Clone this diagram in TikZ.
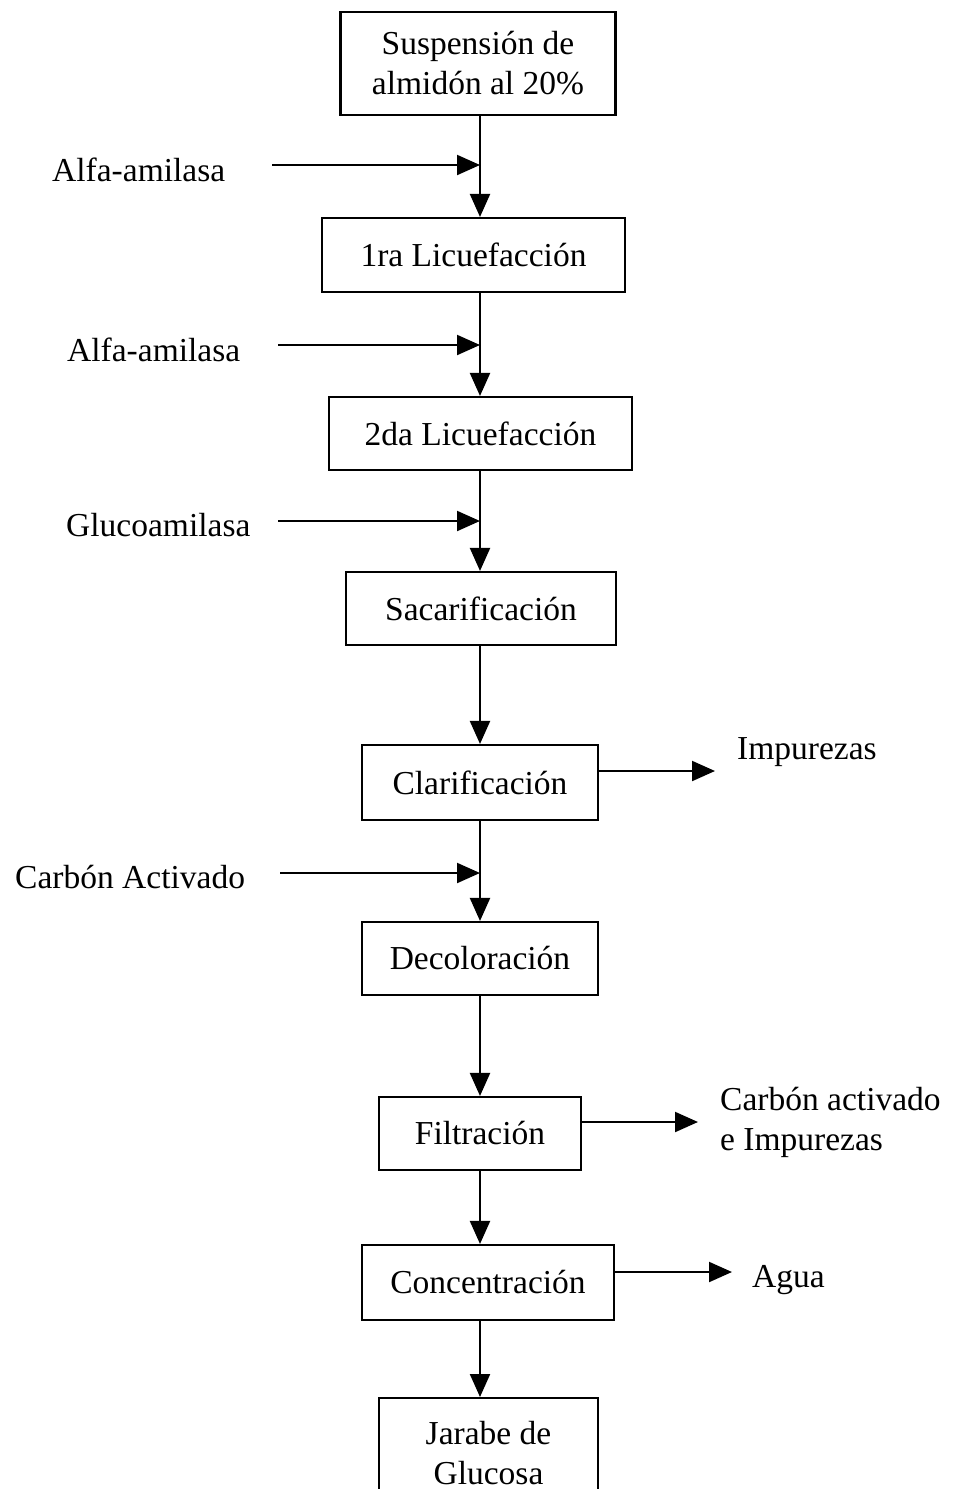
\documentclass[tikz,border=0pt]{standalone}
\usepackage{fontspec}
\setmainfont{Liberation Serif}
\usetikzlibrary{arrows.meta}
\begin{document}
\begin{tikzpicture}[x=1pt,y=-1pt,
  box/.style={draw,line width=2.1pt,inner sep=0pt,align=center,font=\fontsize{33.5}{40}\selectfont},
  lbl/.style={inner sep=0pt,align=left,font=\fontsize{33.5}{40}\selectfont},
  arr/.style={line width=2.1pt,-{Triangle[length=23pt,width=20pt]}}]
\useasboundingbox (0,0) rectangle (953,1489);
\fill[white] (0,0) rectangle (953,1489);
% boxes
\node[box,minimum width=275,minimum height=103] (s1) at (478,63.5) {Suspensión de\\almidón al 20\%};
\node[box,minimum width=303,minimum height=74] (s2) at (473.5,255) {1ra Licuefacción};
\node[box,minimum width=303,minimum height=73] (s3) at (480.5,433.5) {2da Licuefacción};
\node[box,minimum width=270,minimum height=73] (s4) at (481,608.5) {Sacarificación};
\node[box,minimum width=236,minimum height=75] (s5) at (480,782.5) {Clarificación};
\node[box,minimum width=236,minimum height=73] (s6) at (480,958.5) {Decoloración};
\node[box,minimum width=202,minimum height=73] (s7) at (480,1133.5) {Filtración};
\node[box,minimum width=252,minimum height=75] (s8) at (488,1282.5) {Concentración};
\node[box,minimum width=219,minimum height=110,anchor=north] (s9) at (488.5,1397) {Jarabe de\\Glucosa};
% main flow
\coordinate (c1) at (480,115);
\draw[arr] (c1) -- (c1 |- s2.north);
\coordinate (c2) at (480,292);
\draw[arr] (c2) -- (c2 |- s3.north);
\coordinate (c3) at (480,470);
\draw[arr] (c3) -- (c3 |- s4.north);
\coordinate (c4) at (480,645);
\draw[arr] (c4) -- (c4 |- s5.north);
\coordinate (c5) at (480,820);
\draw[arr] (c5) -- (c5 |- s6.north);
\coordinate (c6) at (480,995);
\draw[arr] (c6) -- (c6 |- s7.north);
\coordinate (c7) at (480,1170);
\draw[arr] (c7) -- (c7 |- s8.north);
\coordinate (c8) at (480,1320);
\draw[arr] (c8) -- (c8 |- s9.north);
% inputs
\node[lbl,anchor=west] (l1) at (52,170) {Alfa-amilasa};
\coordinate (i1) at (272,165);
\draw[arr] (i1) -- (i1 -| c1);
\node[lbl,anchor=west] (l2) at (67,350) {Alfa-amilasa};
\coordinate (i2) at (278,345);
\draw[arr] (i2) -- (i2 -| c2);
\node[lbl,anchor=west] (l3) at (66,525) {Glucoamilasa};
\coordinate (i3) at (278,521);
\draw[arr] (i3) -- (i3 -| c3);
\node[lbl,anchor=west] (l4) at (15,877) {Carbón Activado};
\coordinate (i4) at (280,873);
\draw[arr] (i4) -- (i4 -| c5);
% outputs
\node[lbl,anchor=west] (o1) at (737,752) {Impurezas};
\coordinate (e1) at (715,771);
\draw[arr] (s5.east |- e1) -- (e1);
\node[lbl,anchor=west] (o2) at (720,1122) {Carbón activado\\e Impurezas};
\coordinate (e2) at (698,1122);
\draw[arr] (s7.east |- e2) -- (e2);
\node[lbl,anchor=west] (o3) at (752,1280) {Agua};
\coordinate (e3) at (732,1272);
\draw[arr] (s8.east |- e3) -- (e3);
\end{tikzpicture}
\end{document}
